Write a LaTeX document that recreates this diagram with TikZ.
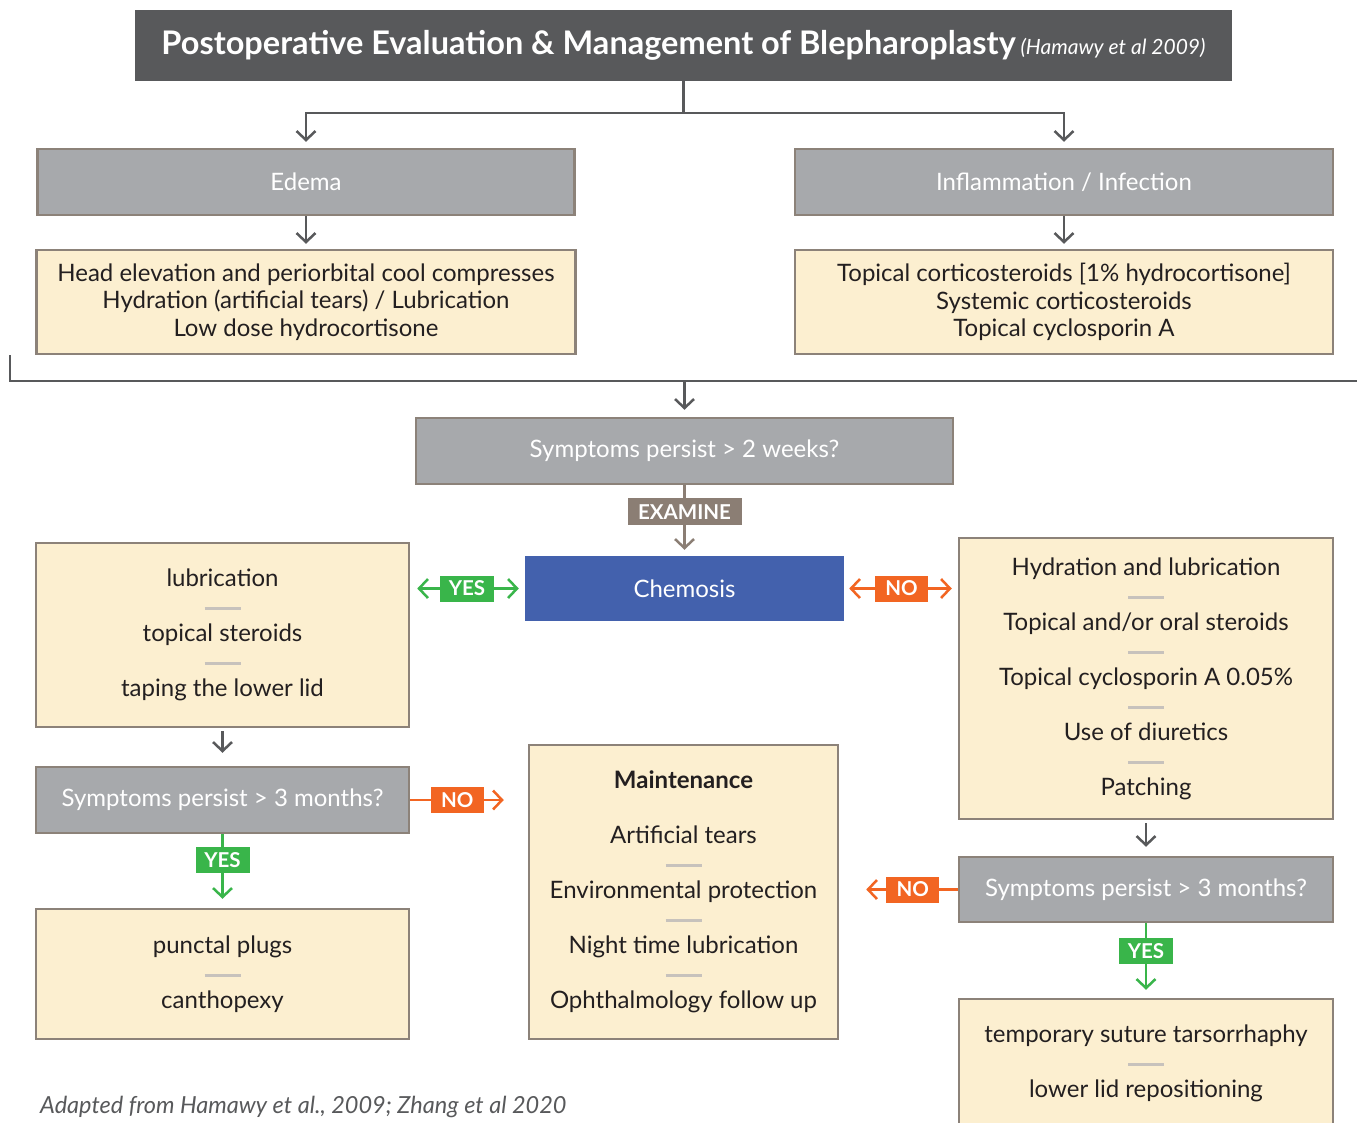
\documentclass[tikz,border=0pt]{standalone}
\usepackage{fontspec}
\setmainfont{Lato}
\usetikzlibrary{arrows.meta,positioning,calc}
\definecolor{headGray}{HTML}{58595B}
\definecolor{qGray}{HTML}{A7A9AC}
\definecolor{boxEdge}{HTML}{8C8279}
\definecolor{cardCream}{HTML}{FCEFD0}
\definecolor{inkDark}{HTML}{231F20}
\definecolor{chemBlue}{HTML}{4361AD}
\definecolor{yesGreen}{HTML}{39B54A}
\definecolor{noOrange}{HTML}{F26522}
\definecolor{examBrown}{HTML}{8B7E74}
\definecolor{sepGray}{HTML}{C7C2BC}
\newcommand{\sepbar}{\textcolor{sepGray}{\rule[4pt]{36pt}{3pt}}}

\begin{document}
\begin{tikzpicture}[x=1pt, y=-1pt,
    box/.style={draw=boxEdge, line width=2.5pt, minimum height=66pt, inner sep=0pt, align=center, font=\fontsize{24}{27.5}\selectfont},
    qbox/.style={box, fill=qGray, text=white},
    txbox/.style={box, fill=cardCream, text=inkDark},
    barb/.tip={Straight Barb[length=9pt, width=19pt]},
    link/.style={line width=2.5pt, draw=headGray, -barb, shorten >=6pt},
    tag/.style={inner sep=0pt, minimum height=26pt, text=white, font=\fontsize{20.5}{20.5}\selectfont\bfseries},
    yestag/.style={tag, fill=yesGreen, minimum width=54pt},
    notag/.style={tag, fill=noOrange, minimum width=53pt},
    yeslink/.style={link, draw=yesGreen},
    nolink/.style={link, draw=noOrange}]
  \clip (0,0) rectangle (1357,1122);
  \fill[white] (0,0) rectangle (1357,1122);

  % header and the two first branches
  \node[fill=headGray, text=white, minimum width=1097pt, minimum height=71pt, inner sep=0pt] (title) at (683.5,45.5)
    {\raisebox{-2pt}{\fontsize{32.5}{36}\selectfont\bfseries Postoperative Evaluation \& Management of Blepharoplasty}\hspace{5pt}\raisebox{-2pt}{\fontsize{21}{24}\selectfont\itshape (Hamawy et al 2009)}};
  \node[qbox, minimum width=537pt] (edema) at (306,182) {Edema};
  \node[qbox, minimum width=538pt] (infect) at (1064,182) {Inflammation / Infection};
  \node[txbox, minimum width=539pt, minimum height=104pt] (edemaRx) at (306,302)
    {Head elevation and periorbital cool compresses\\Hydration (artificial tears) / Lubrication\\Low dose hydrocortisone};
  \node[txbox, minimum width=538pt, minimum height=104pt] (infectRx) at (1064,302)
    {Topical corticosteroids [1\% hydrocortisone]\\Systemic corticosteroids\\Topical cyclosporin A};

  % second stage
  \node[qbox, minimum width=537pt] (weeks) at (684.5,451) {Symptoms persist > 2 weeks?};
  \node[box, draw=none, fill=chemBlue, text=white, minimum width=319pt, minimum height=65pt] (chemosis) at (684.5,588.5) {Chemosis};
  \node[txbox, minimum width=373pt, minimum height=184pt] (yesRx) at (222.5,635)
    {lubrication\\\sepbar\\topical steroids\\\sepbar\\taping the lower lid};
  \node[txbox, minimum width=374pt, minimum height=281pt] (noRx) at (1146,678.5)
    {Hydration and lubrication\\\sepbar\\Topical and/or oral steroids\\\sepbar\\Topical cyclosporin A 0.05\%\\\sepbar\\Use of diuretics\\\sepbar\\Patching};

  % third stage
  \node[qbox, minimum width=373pt] (leftMonths) at (222.5,800) {Symptoms persist > 3 months?};
  \node[txbox, minimum width=373pt, minimum height=130pt] (plugs) at (222.5,974)
    {punctal plugs\\\sepbar\\canthopexy};
  \node[txbox, minimum width=309pt, minimum height=294pt] (maint) at (683.5,892)
    {\textbf{Maintenance}\\\mbox{}\\Artificial tears\\\sepbar\\Environmental protection\\\sepbar\\Night time lubrication\\\sepbar\\Ophthalmology follow up};
  \node[qbox, minimum width=374pt, minimum height=65pt] (rightMonths) at (1146,889.5) {Symptoms persist > 3 months?};
  \node[txbox, minimum width=374pt, minimum height=129pt] (lidRx) at (1146,1063.5)
    {temporary suture tarsorrhaphy\\\sepbar\\lower lid repositioning};

  \node[anchor=west, inner sep=0pt, text=headGray, font=\fontsize{23.5}{26}\selectfont\itshape] (source) at (40,1107)
    {Adapted from Hamawy et al., 2009; Zhang et al 2020};

  % connectors
  \draw[link] (title.south) -- ++(0,32) -| (edema.north);
  \draw[link] (title.south) -- ++(0,32) -| (infect.north);
  \draw[link, shorten >=5pt] (edema.south) -- (edema.south |- edemaRx.north);
  \draw[link, shorten >=5pt] (infect.south) -- (infect.south |- infectRx.north);
  \coordinate (bracketL) at (10,355);
  \coordinate (bracketR) at (1357,381);
  \draw[line width=2.5pt, headGray] (bracketL) |- (bracketR);
  \draw[link, shorten >=7pt] (weeks.north |- bracketR) -- (weeks.north);
  \draw[link, draw=examBrown, shorten >=5pt] (weeks.south) -- (chemosis.north)
    node[pos=0.38, tag, fill=examBrown, minimum width=114pt, minimum height=27pt] (examine) {EXAMINE};
  \draw[yeslink, barb-barb, shorten <=7pt, shorten >=5pt] (yesRx.east |- chemosis.west) -- (chemosis.west)
    node[midway, yestag] (yesA) {YES};
  \draw[nolink, barb-barb, shorten <=4pt, shorten >=6pt] (chemosis.east) -- (noRx.west |- chemosis.east)
    node[midway, notag] (noA) {NO};
  \draw[link, shorten <=3pt, shorten >=13pt] (yesRx.south) -- (leftMonths.north);
  \draw[link, shorten <=3pt, shorten >=9pt] (noRx.south) -- (rightMonths.north);
  \draw[nolink, shorten >=24pt] (leftMonths.east) -- (leftMonths.east -| maint.west)
    node[pos=0.4, notag] (noB) {NO};
  \draw[nolink, shorten >=27pt] (rightMonths.west) -- (rightMonths.west -| maint.east)
    node[pos=0.38, notag] (noC) {NO};
  \draw[yeslink, shorten >=9pt] (leftMonths.south) -- (plugs.north)
    node[pos=0.355, yestag] (yesB) {YES};
  \draw[yeslink, shorten >=8pt] (rightMonths.south) -- (lidRx.north)
    node[pos=0.37, yestag] (yesC) {YES};
\end{tikzpicture}
\end{document}
